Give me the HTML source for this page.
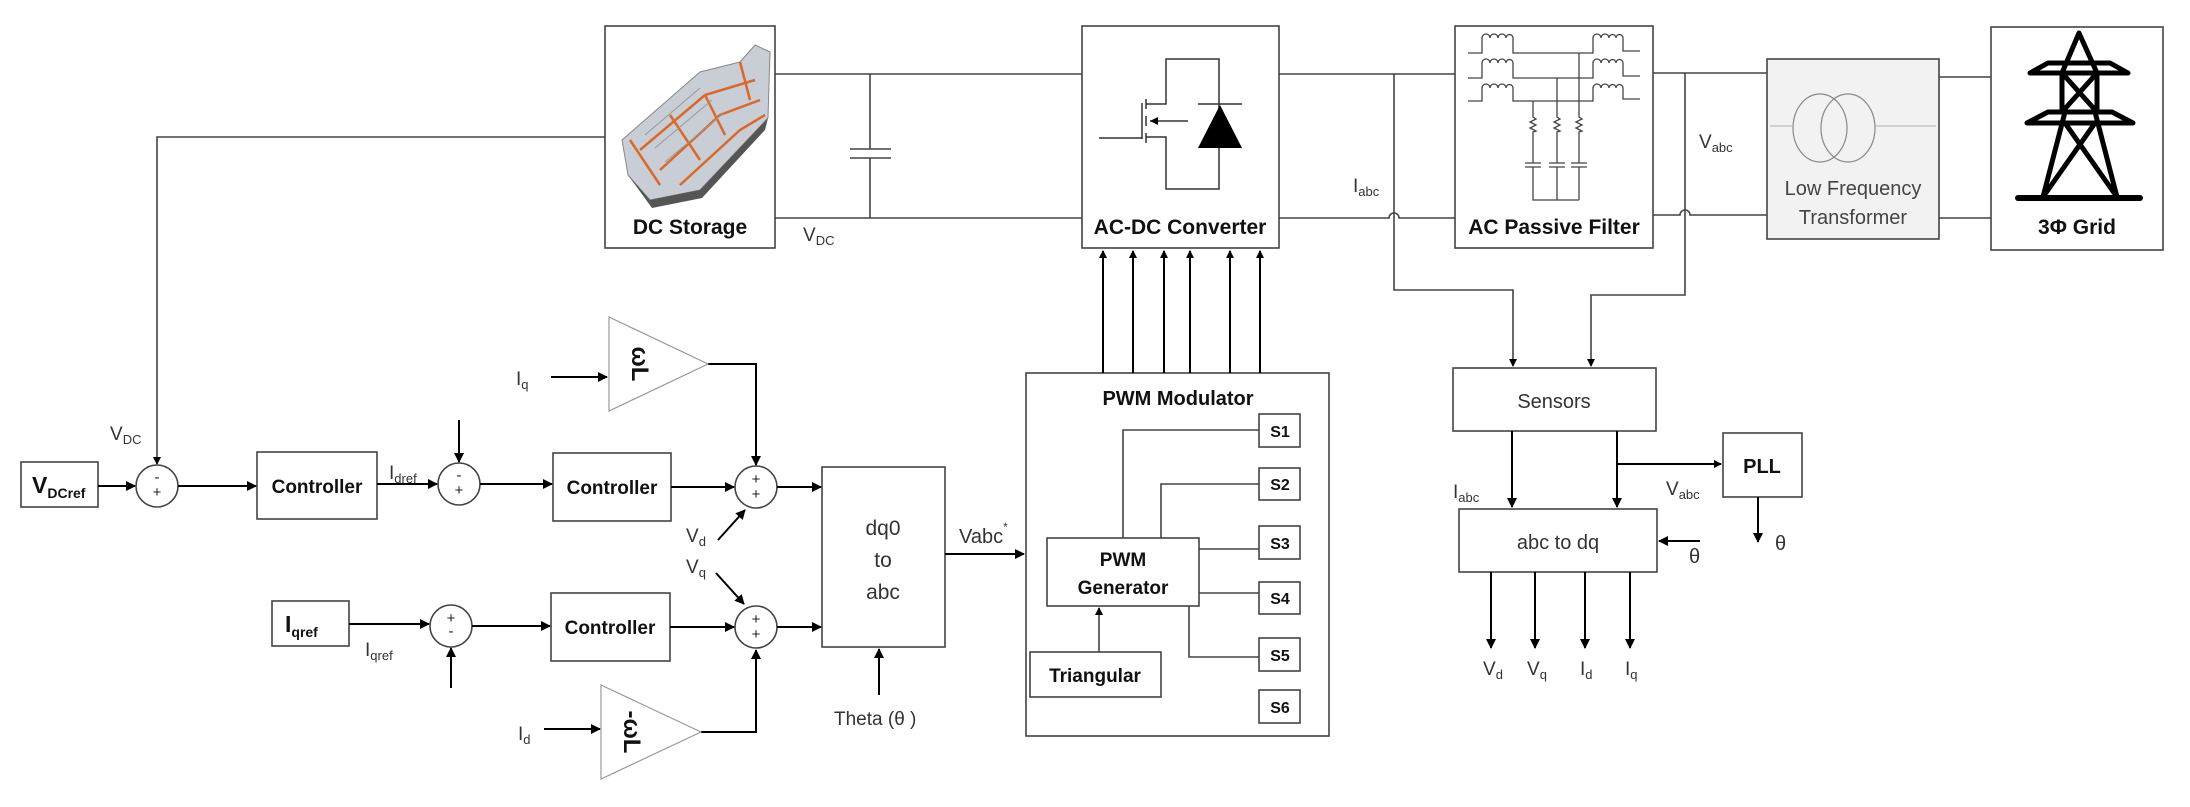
<!DOCTYPE html>
<html><head><meta charset="utf-8">
<style>
html,body{margin:0;padding:0;background:#fff;}
svg{display:block;}
text{font-family:"Liberation Sans Narrow","Liberation Sans",sans-serif;}
.b{font-weight:bold;fill:#111;}
.g{fill:#333;}
</style></head>
<body>
<svg width="2190" height="807" viewBox="0 0 2190 807" xmlns="http://www.w3.org/2000/svg">
<defs>
<marker id="a" markerWidth="10" markerHeight="10" refX="9" refY="5" orient="auto" markerUnits="userSpaceOnUse">
<path d="M0,0 L10,5 L0,10 z" fill="#000"/></marker>
<marker id="s" markerWidth="8" markerHeight="8" refX="7" refY="4" orient="auto" markerUnits="userSpaceOnUse">
<path d="M0,0 L8,4 L0,8 z" fill="#000"/></marker>
</defs>
<g fill="none" stroke="#444" stroke-width="1.6">
<rect x="605" y="26" width="170" height="222" fill="#fff"/>
<rect x="1082" y="26" width="197" height="222" fill="#fff"/>
<rect x="1455" y="26" width="198" height="222" fill="#fff"/>
<rect x="1767" y="59" width="172" height="180" fill="#f2f2f2"/>
<rect x="1991" y="27" width="172" height="223" fill="#fff"/>
<path d="M775,74 H1082 M775,218 H1082"/>
<path d="M870,74 V149 M870,158 V218 M850,149 H891 M850,158 H891"/>
<path d="M1279,74 H1455 M1279,218 H1389 a5,5 0 0 1 10,0 H1455"/>
<path d="M1394,74 V290 H1513 V366" marker-end="url(#s)"/>
<path d="M1653,73 H1767 M1653,215 H1680 a5,5 0 0 1 10,0 H1767"/>
<path d="M1685,73 V295 H1591 V366" marker-end="url(#s)"/>
<path d="M1939,77 H1991 M1939,218 H1991"/>
<path d="M605,137 H157 V464" marker-end="url(#s)"/>
<rect x="1026" y="373" width="303" height="363"/>
<rect x="1259" y="414" width="41" height="33"/>
<rect x="1259" y="468" width="41" height="32"/>
<rect x="1259" y="526" width="41" height="33"/>
<rect x="1259" y="582" width="41" height="32"/>
<rect x="1259" y="638" width="41" height="33"/>
<rect x="1259" y="690" width="41" height="33"/>
<rect x="1047" y="538" width="152" height="68"/>
<rect x="1030" y="652" width="131" height="45"/>
<path d="M1123,538 V430 H1259 M1161,538 V484 H1259 M1199,549 H1259 M1199,593 H1259 M1189,606 V657 H1259"/>
<path d="M1099,652 V608" marker-end="url(#s)"/>
<rect x="1453" y="368" width="203" height="63"/>
<rect x="1459" y="509" width="198" height="63"/>
<rect x="1723" y="433" width="79" height="64"/>
<rect x="21" y="462" width="77" height="45"/>
<rect x="257" y="452" width="120" height="67"/>
<rect x="553" y="453" width="118" height="68"/>
<rect x="551" y="593" width="119" height="68"/>
<rect x="272" y="601" width="77" height="45"/>
<rect x="822" y="467" width="123" height="180" fill="#fff"/>
<circle cx="157" cy="486" r="21"/>
<circle cx="459" cy="484" r="21"/>
<circle cx="756" cy="487" r="21"/>
<circle cx="451" cy="626" r="21"/>
<circle cx="756" cy="627" r="21"/>
</g>
<g fill="none" stroke="#000" stroke-width="2">
<path d="M1103,373 V251" marker-end="url(#s)"/>
<path d="M1133,373 V251" marker-end="url(#s)"/>
<path d="M1164,373 V251" marker-end="url(#s)"/>
<path d="M1190,373 V251" marker-end="url(#s)"/>
<path d="M1230,373 V251" marker-end="url(#s)"/>
<path d="M1260,373 V251" marker-end="url(#s)"/>
<path d="M1512,431 V507" marker-end="url(#a)"/>
<path d="M1617,431 V507" marker-end="url(#a)"/>
<path d="M1617,464 H1721" marker-end="url(#s)"/>
<path d="M1758,497 V542" marker-end="url(#a)"/>
<path d="M1700,541 H1659" marker-end="url(#a)"/>
<path d="M1491,572 V648" marker-end="url(#a)"/>
<path d="M1535,572 V648" marker-end="url(#a)"/>
<path d="M1585,572 V648" marker-end="url(#a)"/>
<path d="M1630,572 V648" marker-end="url(#a)"/>
<path d="M98,486 H135" marker-end="url(#a)"/>
<path d="M178,486 H256" marker-end="url(#a)"/>
<path d="M377,484 H437" marker-end="url(#a)"/>
<path d="M459,420 V462" marker-end="url(#a)"/>
<path d="M480,484 H552" marker-end="url(#a)"/>
<path d="M671,487 H734" marker-end="url(#a)"/>
<path d="M708,364 H756 V465" marker-end="url(#a)"/>
<path d="M551,377 H607" marker-end="url(#a)"/>
<path d="M777,487 H821" marker-end="url(#a)"/>
<path d="M718,540 L745,510" marker-end="url(#a)"/>
<path d="M716,573 L744,604" marker-end="url(#a)"/>
<path d="M349,624 H429" marker-end="url(#a)"/>
<path d="M451,688 V648" marker-end="url(#a)"/>
<path d="M472,626 H550" marker-end="url(#a)"/>
<path d="M670,627 H734" marker-end="url(#a)"/>
<path d="M777,627 H821" marker-end="url(#a)"/>
<path d="M701,732 H756 V650" marker-end="url(#a)"/>
<path d="M544,729 H600" marker-end="url(#a)"/>
<path d="M879,695 V649" marker-end="url(#a)"/>
<path d="M945,554 H1024" marker-end="url(#a)"/>
</g>
<polygon points="609,317 708,364 609,411" fill="#fff" stroke="#999" stroke-width="1.2"/>
<polygon points="601,685 701,732 601,779" fill="#fff" stroke="#999" stroke-width="1.2"/>
<text transform="translate(640,364) rotate(90)" text-anchor="middle" font-size="24" class="b" dy="8">ωL</text>
<text transform="translate(632,732) rotate(90)" text-anchor="middle" font-size="24" class="b" dy="8">-ωL</text>
<g fill="none" stroke="#333" stroke-width="1.5">
<path d="M1146,104 H1166 V59 H1219 V189 H1166 V137 H1146"/>
<path d="M1142,103 V139 M1099,138 H1142 M1146,99 V109 M1146,116 V126 M1146,133 V143 M1188,121 H1150"/>
<path d="M1198,104 H1242"/>
</g>
<polygon points="1220,105 1198,148 1242,148" fill="#000"/>
<polygon points="1150,121 1158,117 1158,125" fill="#000"/>
<g fill="none" stroke="#444" stroke-width="1.3">
<path d="M1468,53 H1482 V38 M1513,38 V53 H1593 V38 M1623,38 V51 H1640"/>
<path d="M1468,78 H1482 V63 M1513,63 V78 H1593 V63 M1623,63 V76 H1640"/>
<path d="M1468,101 H1482 V88 M1513,88 V101 H1593 V88 M1623,88 V99 H1640"/>
<path d="M1482,38 a4,4 0 0 1 8,0 a4,4 0 0 1 8,0 a4,4 0 0 1 8,0 a3.5,3.5 0 0 1 7,0"/>
<path d="M1593,38 a4,4 0 0 1 8,0 a4,4 0 0 1 8,0 a3.5,3.5 0 0 1 7,0 a3.5,3.5 0 0 1 7,0"/>
<path d="M1482,63 a4,4 0 0 1 8,0 a4,4 0 0 1 8,0 a4,4 0 0 1 8,0 a3.5,3.5 0 0 1 7,0"/>
<path d="M1593,63 a4,4 0 0 1 8,0 a4,4 0 0 1 8,0 a3.5,3.5 0 0 1 7,0 a3.5,3.5 0 0 1 7,0"/>
<path d="M1482,88 a4,4 0 0 1 8,0 a4,4 0 0 1 8,0 a4,4 0 0 1 8,0 a3.5,3.5 0 0 1 7,0"/>
<path d="M1593,88 a4,4 0 0 1 8,0 a4,4 0 0 1 8,0 a3.5,3.5 0 0 1 7,0 a3.5,3.5 0 0 1 7,0"/>
<path d="M1579,53 V117 l3,2 -6,3 6,3 -6,3 6,3 -3,1 V163 M1579,167 V200"/>
<path d="M1557,78 V117 l3,2 -6,3 6,3 -6,3 6,3 -3,1 V163 M1557,167 V200"/>
<path d="M1533,101 V117 l3,2 -6,3 6,3 -6,3 6,3 -3,1 V163 M1533,167 V200 H1579"/>
<path d="M1525,163 H1541 M1525,167 H1541 M1549,163 H1565 M1549,167 H1565 M1571,163 H1587 M1571,167 H1587"/>
</g>
<g fill="none" stroke="#888" stroke-width="1.2">
<ellipse cx="1820" cy="128" rx="27" ry="34"/>
<ellipse cx="1848" cy="128" rx="27" ry="34"/>
<path d="M1770,126 H1793 M1875,126 H1936" stroke="#bbb"/>
</g>
<g fill="none" stroke="#000" stroke-width="5" stroke-linejoin="round" stroke-linecap="round">
<path d="M2079,33 L2062,73 M2079,33 L2097,73"/>
<path d="M2030,73 H2128 L2110,63 H2048 Z"/>
<path d="M2062,73 V112 M2097,73 V112 M2062,73 L2097,112 M2097,73 L2062,112"/>
<path d="M2027,123 H2133 L2112,112 H2048 Z"/>
<path d="M2065,112 L2043,197 M2095,112 L2117,197 M2065,123 L2117,197 M2095,123 L2043,197"/>
<path d="M2018,198 H2140" stroke-width="6"/>
</g>
<g>
<polygon points="622,140 700,72 740,62 755,45 770,52 768,118 700,190 650,200 628,175" fill="#c9cdd6" stroke="#888" stroke-width="1"/>
<polygon points="628,175 650,200 700,190 768,118 765,130 702,198 652,208" fill="#555"/>
<g stroke="#d8692a" stroke-width="2.5" fill="none">
<path d="M640,150 L705,95 L755,80 M660,170 L720,115 L760,100 M680,185 L740,130 L765,115 M630,140 L660,185 M670,115 L700,160 M705,95 L725,135 M740,62 L750,100"/>
</g>
<g stroke="#999" stroke-width="1" fill="none">
<path d="M645,135 L700,88 M655,148 L712,100 M665,162 L725,112"/>
</g>
</g>
<g font-size="21">
<text x="690" y="234" text-anchor="middle" class="b">DC Storage</text>
<text x="1180" y="234" text-anchor="middle" class="b">AC-DC Converter</text>
<text x="1554" y="234" text-anchor="middle" class="b">AC Passive Filter</text>
<text x="2077" y="234" text-anchor="middle" class="b">3Φ Grid</text>
<text x="1853" y="195" text-anchor="middle" fill="#444" font-size="20">Low Frequency</text>
<text x="1853" y="224" text-anchor="middle" fill="#444" font-size="20">Transformer</text>
<text x="317" y="493" text-anchor="middle" class="b" font-size="19">Controller</text>
<text x="612" y="494" text-anchor="middle" class="b" font-size="19">Controller</text>
<text x="610" y="634" text-anchor="middle" class="b" font-size="19">Controller</text>
<text x="1178" y="405" text-anchor="middle" class="b" font-size="20">PWM Modulator</text>
<text x="1123" y="566" text-anchor="middle" class="b" font-size="19">PWM</text>
<text x="1123" y="594" text-anchor="middle" class="b" font-size="19">Generator</text>
<text x="1095" y="682" text-anchor="middle" class="b" font-size="19">Triangular</text>
<g class="b" font-size="16" text-anchor="middle">
<text x="1280" y="437">S1</text><text x="1280" y="490">S2</text><text x="1280" y="549">S3</text>
<text x="1280" y="604">S4</text><text x="1280" y="661">S5</text><text x="1280" y="713">S6</text>
</g>
<text x="1762" y="473" text-anchor="middle" class="b" font-size="20">PLL</text>
<text x="1554" y="408" text-anchor="middle" fill="#333" font-size="20">Sensors</text>
<text x="1558" y="549" text-anchor="middle" fill="#333" font-size="20">abc to dq</text>
<text x="883" y="535" text-anchor="middle" fill="#333" font-size="21">dq0</text>
<text x="883" y="567" text-anchor="middle" fill="#333" font-size="21">to</text>
<text x="883" y="599" text-anchor="middle" fill="#333" font-size="21">abc</text>
<text x="959" y="543" fill="#333" font-size="20">Vabc<tspan font-size="12" dy="-12">*</tspan></text>
<text x="834" y="725" fill="#333" font-size="19">Theta (θ )</text>
<text x="1775" y="550" fill="#333" font-size="20">θ</text>
<text x="1689" y="563" fill="#333" font-size="20">θ</text>
<text x="803" y="241" class="g" font-size="19">V<tspan font-size="13" dy="4">DC</tspan></text>
<text x="110" y="440" class="g" font-size="19">V<tspan font-size="13" dy="4">DC</tspan></text>
<text x="1353" y="192" class="g" font-size="19">I<tspan font-size="13" dy="4">abc</tspan></text>
<text x="1699" y="148" class="g" font-size="19">V<tspan font-size="13" dy="4">abc</tspan></text>
<text x="1453" y="498" class="g" font-size="19">I<tspan font-size="13" dy="4">abc</tspan></text>
<text x="1666" y="495" class="g" font-size="19">V<tspan font-size="13" dy="4">abc</tspan></text>
<text x="389" y="479" class="g" font-size="19">I<tspan font-size="13" dy="4">dref</tspan></text>
<text x="365" y="656" class="g" font-size="19">I<tspan font-size="13" dy="4">qref</tspan></text>
<text x="686" y="542" class="g" font-size="19">V<tspan font-size="13" dy="4">d</tspan></text>
<text x="686" y="573" class="g" font-size="19">V<tspan font-size="13" dy="4">q</tspan></text>
<text x="516" y="385" class="g" font-size="19">I<tspan font-size="13" dy="4">q</tspan></text>
<text x="518" y="740" class="g" font-size="19">I<tspan font-size="13" dy="4">d</tspan></text>
<text x="1483" y="675" class="g" font-size="19">V<tspan font-size="13" dy="4">d</tspan></text>
<text x="1527" y="675" class="g" font-size="19">V<tspan font-size="13" dy="4">q</tspan></text>
<text x="1580" y="675" class="g" font-size="19">I<tspan font-size="13" dy="4">d</tspan></text>
<text x="1625" y="675" class="g" font-size="19">I<tspan font-size="13" dy="4">q</tspan></text>
<text x="32" y="493" class="b" font-size="23">V<tspan font-size="14" dy="5">DCref</tspan></text>
<text x="285" y="632" class="b" font-size="23">I<tspan font-size="14" dy="5">qref</tspan></text>
</g>
<g font-size="15" fill="#222" text-anchor="middle">
<text x="157" y="482">-</text><text x="157" y="497">+</text>
<text x="459" y="480">-</text><text x="459" y="495">+</text>
<text x="756" y="484">+</text><text x="756" y="499">+</text>
<text x="451" y="623">+</text><text x="451" y="636">-</text>
<text x="756" y="624">+</text><text x="756" y="639">+</text>
</g>
</svg>
</body></html>
